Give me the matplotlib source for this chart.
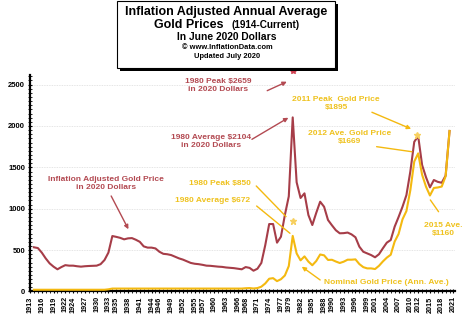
import matplotlib
matplotlib.use("Agg")
import matplotlib.pyplot as plt
from matplotlib.patches import Rectangle
from matplotlib.ticker import MultipleLocator, FixedLocator

plt.rcParams.update({
    'font.family': 'sans-serif',
    'font.sans-serif': ['Liberation Sans', 'DejaVu Sans'],
    'font.weight': 'bold',
})

RED = '#a63d48'
RED_TXT = '#b34a52'
GOLD = '#f4b910'
GOLD_TXT = '#efc21f'

# --- data -------------------------------------------------------------------
years = list(range(1914, 2021))

# annual average gold price in June 2020 dollars
real_price = [
    534, 525, 470, 400, 340, 300, 268, 295, 318, 312,          # 1914-1923
    312, 305, 300, 305, 308, 310, 312, 330, 380, 470,          # 1924-1933
    670, 660, 648, 630, 642, 645, 625, 600, 545, 530,          # 1934-1943
    530, 520, 480, 455, 450, 440, 420, 400, 385, 365,          # 1944-1953
    345, 335, 330, 322, 312, 310, 305, 300, 297, 290,          # 1954-1963
    286, 282, 275, 268, 295, 285, 251, 275, 345, 560,          # 1964-1973
    815, 815, 590, 662, 924, 1150, 2104, 1320, 1130, 1186,     # 1974-1983
    924, 803, 950, 1085, 1024, 864, 800, 740, 703, 705,        # 1984-1993
    712, 690, 655, 541, 480, 460, 440, 413, 450, 522,          # 1994-2003
    590, 622, 783, 900, 1024, 1165, 1450, 1809, 1878, 1528,    # 2004-2013
    1380, 1258, 1347, 1325, 1314, 1400, 1940,                  # 2014-2020
]

# nominal annual average gold price
nominal_price = [
    20.67, 20.67, 20.67, 20.67, 20.67, 20.67, 20.67, 20.67, 20.67, 20.67,
    20.67, 20.67, 20.67, 20.67, 20.67, 20.67, 20.67, 20.67, 20.67, 26,
    35, 35, 35, 35, 35, 35, 35, 35, 35, 35,
    35, 35, 35, 35, 35, 35, 35, 35, 35, 35,
    35, 35, 35, 35, 35, 35, 35, 35, 35, 35,
    35, 35, 35, 35, 39, 41, 36, 41, 58, 97,
    154, 161, 125, 148, 193, 307, 672, 460, 376, 424,
    361, 317, 368, 447, 437, 381, 383, 362, 344, 360,
    384, 384, 388, 331, 294, 279, 279, 271, 310, 363,
    409, 444, 603, 695, 872, 972, 1224, 1571, 1669, 1411,
    1266, 1160, 1251, 1257, 1268, 1393, 1940,
]

peak_1980_real = (1980, 2659)
peak_1980_nominal = (1980, 850)
peak_2011_nominal = (2011.7, 1895)

tick_years = [1913, 1916, 1919, 1922, 1924, 1927, 1930, 1933, 1935, 1938,
              1941, 1944, 1946, 1949, 1952, 1955, 1957, 1960, 1963, 1966,
              1968, 1971, 1974, 1977, 1979, 1982, 1985, 1988, 1990, 1993,
              1996, 1999, 2001, 2004, 2007, 2010, 2012, 2015, 2018, 2021]
y_ticks = [0, 500, 1000, 1500, 2000, 2500]

# --- figure -----------------------------------------------------------------
fig = plt.figure(figsize=(4.74, 3.21), dpi=100)
ax = fig.add_axes([0.0633, 0.092, 0.8967, 0.674])

ax.plot(years, real_price, color=RED, lw=1.5, zorder=3, solid_joinstyle='round')
ax.plot(years, nominal_price, color=GOLD, lw=1.5, zorder=4, solid_joinstyle='round')

ax.plot(*peak_1980_real, marker='*', ms=4, color='#d04050', clip_on=False, zorder=5)
ax.plot(*peak_1980_nominal, marker='*', ms=5, color='#f7d060', clip_on=False, zorder=5)
ax.plot(*peak_2011_nominal, marker='*', ms=5, color='#f7d060', clip_on=False, zorder=5)

ax.set_xlim(1913, 2021.4)
ax.set_ylim(0, 2615)

ax.yaxis.set_major_locator(FixedLocator(y_ticks))
ax.yaxis.set_minor_locator(MultipleLocator(50))
ax.xaxis.set_major_locator(FixedLocator(tick_years))
ax.xaxis.set_minor_locator(MultipleLocator(1))
ax.set_xticklabels([str(y) for y in tick_years], rotation=90, fontsize=5.2,
                   fontweight='bold')
ax.set_yticklabels([str(v) for v in y_ticks], fontsize=5.5, fontweight='bold')

ax.tick_params(axis='both', which='both', direction='inout', color='black')
ax.tick_params(axis='both', which='major', length=3, width=0.8, pad=2)
ax.tick_params(axis='both', which='minor', length=2.5, width=0.6)

for s in ['top', 'right']:
    ax.spines[s].set_visible(False)
for s in ['left', 'bottom']:
    ax.spines[s].set_linewidth(1.6)

ax.grid(axis='y', color='#dcdcdc', linestyle=(0, (1, 1)), linewidth=0.6)
ax.set_axisbelow(True)

# --- annotations ------------------------------------------------------------
txt = dict(fontsize=6.0, fontweight='bold', ha='center', va='center',
           linespacing=1.2)
arrow_red = dict(arrowstyle='-|>', color=RED_TXT, lw=1.0, mutation_scale=6,
                 shrinkA=0, shrinkB=0)
line_gold = dict(arrowstyle='-', color=GOLD, lw=1.0, shrinkA=0, shrinkB=0)
arrow_gold = dict(arrowstyle='-|>', color=GOLD, lw=1.0, mutation_scale=6,
                  shrinkA=0, shrinkB=0)

ax.text(1960.9, 2495, '1980 Peak $2659\nin 2020 Dollars', color=RED_TXT, **txt)
ax.annotate('', xy=(1978.5, 2535), xytext=(1973.5, 2427), arrowprops=arrow_red)

ax.text(1959.3, 1807, '1980 Average $2104\nin 2020 Dollars', color=RED_TXT, **txt)
ax.annotate('', xy=(1978.9, 2100), xytext=(1969.6, 1839), arrowprops=arrow_red)

ax.text(1932.4, 1308, 'Inflation Adjusted Gold Price\nin 2020 Dollars',
        color=RED_TXT, **txt)
ax.annotate('', xy=(1938.1, 752), xytext=(1933.7, 1154), arrowprops=arrow_red)

ax.text(1961.4, 1299, '1980 Peak $850', color=GOLD_TXT, **txt)
ax.annotate('', xy=(1978.3, 905), xytext=(1970.7, 1275), arrowprops=line_gold)

ax.text(1959.6, 1097, '1980 Average $672', color=GOLD_TXT, **txt)
ax.annotate('', xy=(1979.3, 703), xytext=(1970.8, 1033), arrowprops=line_gold)

ax.text(2004.0, 106, 'Nominal Gold Price (Ann. Ave.)', color=GOLD_TXT, **txt)
ax.annotate('', xy=(1982.3, 300), xytext=(1987.0, 139), arrowprops=arrow_gold)

ax.text(1991.1, 2266, '2011 Peak  Gold Price\n$1895', color=GOLD_TXT, **txt)
ax.annotate('', xy=(2010.2, 1965), xytext=(2000.2, 2166), arrowprops=arrow_gold)

ax.text(1994.4, 1855, '2012 Ave. Gold Price\n$1669', color=GOLD_TXT, **txt)
ax.annotate('', xy=(2010.4, 1689), xytext=(2001.4, 1750), arrowprops=line_gold)

ax.text(2018.4, 755, '2015 Ave.\n$1160', color=GOLD_TXT, **txt)
ax.annotate('', xy=(2015.1, 1106), xytext=(2017.2, 964), arrowprops=line_gold)

# --- title box --------------------------------------------------------------
W, H = 474.0, 321.0
bx0, by0, bw, bh = 117 / W, 1 - 68 / H, 218 / W, 67 / H
fig.patches.append(Rectangle((bx0 + 3 / W, by0 - 3 / H), bw, bh,
                             transform=fig.transFigure, facecolor='black',
                             edgecolor='none', zorder=1))
fig.patches.append(Rectangle((bx0, by0), bw, bh, transform=fig.transFigure,
                             facecolor='white', edgecolor='black', lw=0.8,
                             zorder=2))

fig.text(226 / W, 1 - 11.5 / H, 'Inflation Adjusted Annual Average', ha='center',
         va='center', fontsize=9.0, fontweight='bold')
fig.text(189 / W, 1 - 25 / H, 'Gold Prices', ha='center', va='center',
         fontsize=9.0, fontweight='bold')
fig.text(265.5 / W, 1 - 25 / H, '(1914-Current)', ha='center', va='center',
         fontsize=7.2, fontweight='bold')
fig.text(226.5 / W, 1 - 36.7 / H, 'In June 2020 Dollars', ha='center', va='center',
         fontsize=7.4, fontweight='bold')
fig.text(227 / W, 1 - 47.7 / H, '\u00a9 www.InflationData.com', ha='center',
         va='center', fontsize=5.4, fontweight='bold')
fig.text(227 / W, 1 - 56.7 / H, 'Updated July 2020', ha='center', va='center',
         fontsize=5.4, fontweight='bold')

fig.savefig('out.png', dpi=100)
